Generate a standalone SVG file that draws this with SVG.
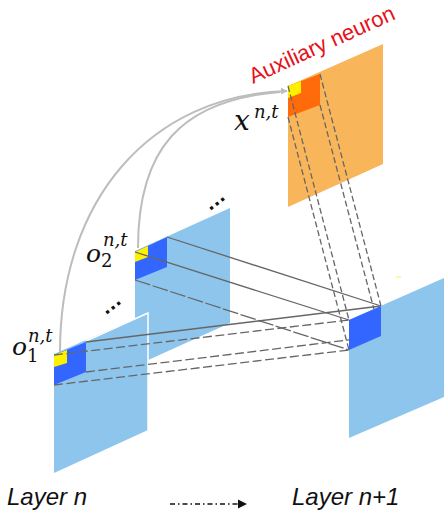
<svg xmlns="http://www.w3.org/2000/svg" width="445" height="518" viewBox="0 0 445 518">
<defs>
<style>
.plane{fill:#8EC5EC}
.sq{fill:#3366FF}
.yel{fill:#FFF000}
.solid{stroke:#666;stroke-width:1.3;fill:none}
.dash{stroke:#666;stroke-width:1.3;fill:none;stroke-dasharray:9 3.5}
.dashlong{stroke:#666;stroke-width:1.3;fill:none;stroke-dasharray:16 2.5}
.vdash{stroke:#666;stroke-width:1.3;fill:none;stroke-dasharray:6 3}
.curve{stroke:#BDBDBD;stroke-width:2;fill:none}
.math{font-family:"DejaVu Serif","Liberation Serif",serif;font-style:italic;fill:#111}
.up{font-style:normal}
.lbl{font-family:"Liberation Sans",Arial,sans-serif;font-style:italic;font-size:24px;fill:#111}
.dots{font-family:"Liberation Sans",Arial,sans-serif;font-weight:bold;font-size:22px;fill:#111}
</style>
<marker id="ah" viewBox="0 0 10 10" refX="9" refY="5" markerWidth="7" markerHeight="7" markerUnits="userSpaceOnUse" orient="auto">
<path d="M0,0 L10,5 L0,10 z" fill="#BDBDBD"/>
</marker>
</defs>

<g id="plane2">
<polygon class="plane" points="135,251 230,208 230,323 135,366"/>
<polygon class="sq" points="135,252 167,237 167,267 135,280"/>
<polygon class="yel" points="135,252 148,246 148,257 135,262"/>
</g>

<g id="plane1">
<polygon class="plane" points="54,354 148,313 148,430 54,473"/>
<polyline points="86,341 148,313 148,430" fill="none" stroke="#FFFFFF" stroke-width="1.5"/>
<polygon class="sq" points="54,355 86,342 86,372 54,385"/>
<polygon class="yel" points="54,355 67,350 67,363 54,367"/>
</g>

<g id="auxiliary">
<polygon fill="#F9B55A" points="288,86 383,44 383,164 288,207"/>
<polygon fill="#FF6A0A" points="288,86 320,74 320,105 288,117"/>
<polygon fill="#FFF000" points="288,86 301,81 301,93 288,98"/>
<text x="253" y="84" transform="rotate(-24.5 253 84)" font-family="Liberation Sans, Arial, sans-serif" font-size="22" fill="#E8101A">Auxiliary neuron</text>
</g>

<g id="connectors">
<path class="curve" d="M60,352 C60,200 150,95 287,91" marker-end="url(#ah)"/>
<path class="curve" d="M138,248 C138,150 180,100 280,92"/>
<line class="solid" x1="86" y1="342" x2="381" y2="306"/>
<line class="dash" x1="54" y1="355" x2="349" y2="320"/>
<line class="dash" x1="86" y1="372" x2="381" y2="336"/>
<line class="dash" x1="54" y1="385" x2="349" y2="350"/>
<line class="solid" x1="167" y1="237" x2="381" y2="306"/>
<line class="solid" x1="135" y1="252" x2="349" y2="320"/>
<line class="dashlong" x1="135" y1="280" x2="349" y2="350"/>
<line class="vdash" x1="288" y1="86" x2="349" y2="320"/>
<line class="vdash" x1="288" y1="117" x2="349" y2="350"/>
<line class="vdash" x1="320" y1="74" x2="381" y2="306"/>
<line class="vdash" x1="320" y1="105" x2="381" y2="336"/>
</g>

<g id="plane3">
<polygon class="plane" points="349,320 444,278 444,397 349,438"/>
<polygon class="sq" points="349,320 381,306 381,336 349,350"/>
<rect x="396" y="276.5" width="5" height="1.2" fill="#FFF27A"/>
</g>

<g id="labels">
<text class="math" font-size="28"><tspan x="234" y="130">x</tspan><tspan x="254" y="118" font-size="18">n,t</tspan></text>
<text class="math" font-size="25"><tspan x="12" y="355">o</tspan><tspan class="up" x="27" y="362" font-size="18">1</tspan><tspan x="28" y="342" font-size="18">n,t</tspan></text>
<text class="math" font-size="25"><tspan x="86" y="262">o</tspan><tspan class="up" x="101" y="267" font-size="18">2</tspan><tspan x="103" y="246" font-size="18">n,t</tspan></text>
<text class="dots" x="99" y="311" transform="rotate(-38 109 304)">…</text>
<text class="dots" x="203" y="207" transform="rotate(-38 213 200)">…</text>
<text class="lbl" x="7" y="505">Layer n</text>
<text class="lbl" x="292" y="505">Layer n+1</text>
<line x1="170" y1="504" x2="238" y2="504" stroke="#111" stroke-width="1.5" stroke-dasharray="5 3 1.5 3"/>
<polygon points="238,499.5 247,504 238,508.5" fill="#111"/>
</g>
</svg>
